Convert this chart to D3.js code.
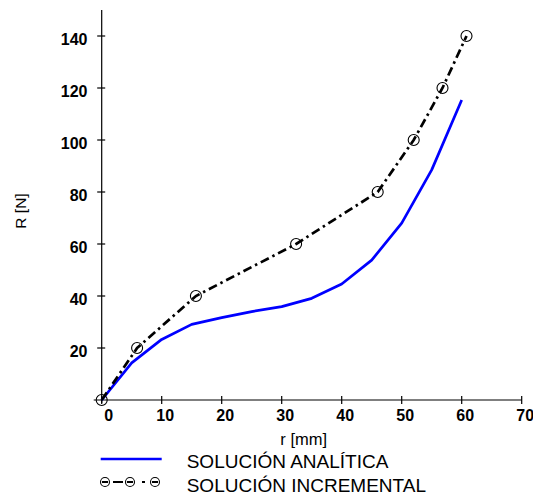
<!DOCTYPE html>
<html>
<head>
<meta charset="utf-8">
<script src="https://cdn.jsdelivr.net/npm/d3@7"></script>
<style>
  body { margin: 0; background: #fff; }
  text { font-family: "Liberation Sans", Arial, sans-serif; }
</style>
</head>
<body>
<svg id="chart" width="533" height="498"></svg>
<script>
// r [mm] vs R [N]
var rAnalitica = [0, 5, 10, 15, 20, 25, 30, 35, 40, 45, 50, 55, 60];
var RAnalitica = [0, 14.3, 23.3, 29.1, 31.7, 34, 35.9, 39.1, 44.6, 53.8, 68, 88.5, 115.4];

var rIncremental = [0, 5.9, 15.7, 32.4, 46, 52, 56.8, 60.8];
var RIncremental = [0, 20, 40, 60, 80, 100, 120, 140];

var xTicks = [0, 10, 20, 30, 40, 50, 60, 70];
var yTicks = [20, 40, 60, 80, 100, 120, 140];

var legendLabels = ["SOLUCIÓN ANALÍTICA", "SOLUCIÓN INCREMENTAL"];

var svg = d3.select("#chart");

var x = d3.scaleLinear().domain([0, 70]).range([101.7, 521.7]);
var y = d3.scaleLinear().domain([0, 150]).range([400, 10]);

// axes, drawn by hand because ticks cross the line
var axes = svg.append("g").attr("stroke", "#000").attr("stroke-width", 1.2);
axes.append("line")
  .attr("x1", x(0) - 8).attr("x2", x(70))
  .attr("y1", y(0)).attr("y2", y(0));
axes.append("line")
  .attr("x1", x(0)).attr("x2", x(0))
  .attr("y1", y(150)).attr("y2", y(0) + 3);

axes.selectAll(".xt").data(xTicks).enter().append("line")
  .attr("x1", function(d) { return x(d); })
  .attr("x2", function(d) { return x(d); })
  .attr("y1", y(0) - 4).attr("y2", y(0) + 4);

axes.selectAll(".yt").data(yTicks).enter().append("line")
  .attr("x1", x(0) - 4.5).attr("x2", x(0) + 3.5)
  .attr("y1", function(d) { return y(d); })
  .attr("y2", function(d) { return y(d); });

svg.selectAll(".xl").data(xTicks).enter().append("text")
  .attr("x", function(d) { return x(d) + (d == 0 ? 7 : 3.5); })
  .attr("y", y(0) + 20.7)
  .attr("text-anchor", "middle")
  .attr("font-size", "16px")
  .attr("font-weight", "bold")
  .text(function(d) { return d; });

svg.selectAll(".yl").data(yTicks).enter().append("text")
  .attr("x", 87.5)
  .attr("y", function(d) { return y(d) + 9; })
  .attr("text-anchor", "end")
  .attr("font-size", "16px")
  .attr("font-weight", "bold")
  .text(function(d) { return d; });

svg.append("text")
  .attr("transform", "translate(26,211) rotate(-90)")
  .attr("text-anchor", "middle")
  .attr("font-size", "15.5px")
  .text("R [N]");

svg.append("text")
  .attr("x", 303.7).attr("y", 445)
  .attr("text-anchor", "middle")
  .attr("font-size", "16.5px")
  .text("r [mm]");

// series
var line = d3.line()
  .x(function(d) { return x(d[0]); })
  .y(function(d) { return y(d[1]); });

var anal = d3.zip(rAnalitica, RAnalitica);
var incr = d3.zip(rIncremental, RIncremental);

svg.append("path")
  .attr("d", line(anal))
  .attr("fill", "none")
  .attr("stroke", "#0000ff")
  .attr("stroke-width", 2.7)
  .attr("stroke-linejoin", "round");

svg.append("path")
  .attr("d", line(incr))
  .attr("fill", "none")
  .attr("stroke", "#000")
  .attr("stroke-width", 2.7)
  .attr("stroke-dasharray", "9,4,2.5,4");

svg.selectAll(".pt").data(incr).enter().append("circle")
  .attr("cx", function(d) { return x(d[0]); })
  .attr("cy", function(d) { return y(d[1]); })
  .attr("r", 5.5)
  .attr("fill", "none")
  .attr("stroke", "#000")
  .attr("stroke-width", 1.1);

// legend
var lg = svg.append("g");
lg.append("line")
  .attr("x1", 100.7).attr("x2", 161.7)
  .attr("y1", 459).attr("y2", 459)
  .attr("stroke", "#0000ff").attr("stroke-width", 2.7);

lg.append("line")
  .attr("x1", 102).attr("x2", 158)
  .attr("y1", 482).attr("y2", 482)
  .attr("stroke", "#000").attr("stroke-width", 1.8)
  .attr("stroke-dasharray", "6,5,10,4,6,9,3,7,6,100");

lg.selectAll(".lc").data([105, 130, 155]).enter().append("circle")
  .attr("cx", function(d) { return d; })
  .attr("cy", 482)
  .attr("r", 4.5)
  .attr("fill", "none")
  .attr("stroke", "#000")
  .attr("stroke-width", 1.1);

lg.selectAll(".lt").data(legendLabels).enter().append("text")
  .attr("x", 186.7)
  .attr("y", function(d, i) { return 468.3 + i * 23.4; })
  .attr("font-size", "19px")
  .text(function(d) { return d; });
</script>
</body>
</html>
